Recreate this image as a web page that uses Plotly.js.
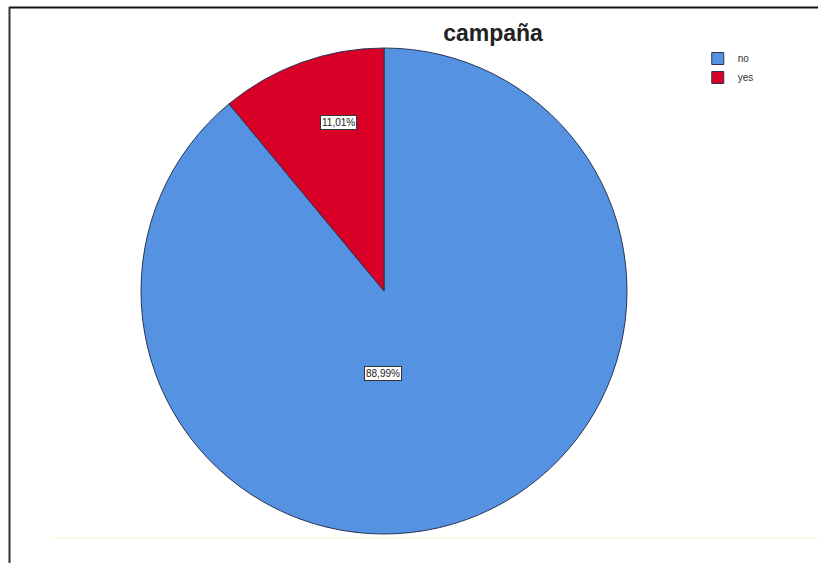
<!DOCTYPE html>
<html>
<head>
<meta charset="utf-8">
<script src="https://cdn.plot.ly/plotly-3.0.1.min.js"></script>
<style>html,body{margin:0;padding:0;background:#fff;}#chart{width:818px;height:563px;}</style>
</head>
<body>
<div id="chart"></div>
<script>
const categories = ["no", "yes"];
const percents = [88.99, 11.01];
const colors = ["#5593E2", "#D80027"];
const chartTitle = "campaña";

const W = 818, H = 563;
const cx = 384, cy = 291, R = 243;

function fmt(v) { return v.toFixed(2).replace('.', ',') + '%'; }

const trace = {
  type: 'pie',
  labels: categories,
  values: percents,
  sort: false,
  direction: 'clockwise',
  rotation: 0,
  marker: { colors: colors, line: { color: '#2a3556', width: 1 } },
  textinfo: 'none',
  hoverinfo: 'label+percent',
  domain: { x: [(cx - R) / W, (cx + R) / W], y: [(H - cy - R) / H, (H - cy + R) / H] }
};

// label positions (pixel offsets from pie center, SPSS-style placement)
const labelOffsets = [[-1, 82], [-46, -169]];
const annotations = categories.map((c, i) => ({
  xref: 'paper', yref: 'paper',
  x: (cx + labelOffsets[i][0]) / W,
  y: (H - cy - labelOffsets[i][1]) / H,
  xanchor: 'center', yanchor: 'middle',
  text: fmt(percents[i]),
  showarrow: false,
  font: { family: 'Liberation Sans, Arial, sans-serif', size: 10, color: '#222' },
  bgcolor: '#ffffff',
  bordercolor: '#333333',
  borderwidth: 1,
  borderpad: 1
}));

const layout = {
  width: W, height: H,
  margin: { l: 0, r: 0, t: 0, b: 0 },
  paper_bgcolor: '#ffffff',
  title: {
    text: '<b>' + chartTitle + '</b>',
    font: { family: 'Liberation Sans, Arial, sans-serif', size: 23, color: '#222' },
    x: 493 / W, xanchor: 'center',
    y: 1 - 33 / H, yanchor: 'middle'
  },
  showlegend: true,
  legend: {
    x: 0.853, y: 1 - 44 / H, xanchor: 'left', yanchor: 'top',
    font: { family: 'Liberation Sans, Arial, sans-serif', size: 10, color: '#333' },
    itemwidth: 30, tracegroupgap: 0, bgcolor: 'rgba(0,0,0,0)'
  },
  annotations: annotations,
  shapes: [
    { type: 'line', xref: 'paper', yref: 'paper', x0: 9 / W, x1: 1, y0: 1 - 7.5 / H, y1: 1 - 7.5 / H, line: { color: '#111', width: 2 } },
    { type: 'line', xref: 'paper', yref: 'paper', x0: 9.5 / W, x1: 9.5 / W, y0: 0, y1: 1 - 7 / H, line: { color: '#333', width: 2 } },
    { type: 'line', xref: 'paper', yref: 'paper', x0: 55 / W, x1: 1, y0: 1 - 538 / H, y1: 1 - 538 / H, line: { color: '#fbeec8', width: 1 } }
  ]
};

Plotly.newPlot('chart', [trace], layout, { displayModeBar: false, staticPlot: true });
</script>
</body>
</html>
